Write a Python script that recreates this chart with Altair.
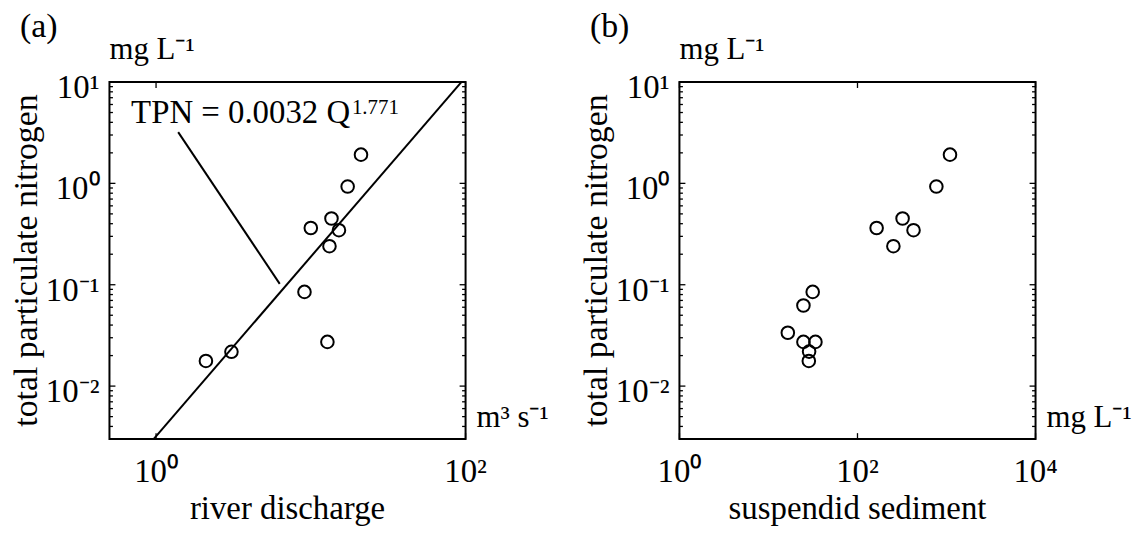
import math
import altair as alt
import pandas as pd

FONT = "Liberation Serif"
W, H = 358, 359
Y_DOM = [0.003, 10]

# ---- data ----
# panel (a): river discharge (m3 s-1) vs total particulate nitrogen (mg L-1)
q_discharge = [21.1, 17.3, 13.6, 10.0, 15.2, 13.2, 9.1, 12.8, 3.07, 2.10]
tpn_a = [1.92, 0.93, 0.45, 0.363, 0.345, 0.24, 0.085, 0.0273, 0.0218, 0.0177]

# panel (b): suspended sediment (mg L-1) vs total particulate nitrogen (mg L-1)
ss = [1094, 769, 321, 164, 426, 253, 31.4, 24.7, 16.5, 24.7, 33.7, 28.6, 28.4]
tpn_b = [1.92, 0.93, 0.45, 0.363, 0.345, 0.24, 0.085, 0.0624, 0.0336,
         0.0273, 0.0273, 0.0219, 0.0177]

# fitted power law shown in panel (a): TPN = 0.0032 Q^1.771
fit_coef = 0.0032
fit_exp = 1.771
fit_q_range = [0.964, 94.2]

# leader line from the equation to the fit line, and equation anchor
leader_x = [1.39, 6.3]
leader_y = [3.2, 0.102]
eq_anchor = [0.69, 3.96]

# axis ticks and labels
y_major = [0.01, 0.1, 1, 10]
y_major_labels = ["10\u207b\u00b2", "10\u207b\u00b9", "10\u2070", "10\u00b9"]
y_minor = [m * 10.0 ** k for k in (-3, -2, -1, 0) for m in range(2, 10)
           if Y_DOM[0] <= m * 10.0 ** k <= Y_DOM[1]]

xa_ticks = [1, 100]
xa_labels = ["10\u2070", "10\u00b2"]
xb_ticks = [1, 100, 10000]
xb_labels = ["10\u2070", "10\u00b2", "10\u2074"]

y_title = "total particulate nitrogen"


def txt(**kw):
    base = dict(font=FONT, color="black", fontWeight="normal")
    base.update(kw)
    return base


def gmid(dom):
    return math.sqrt(dom[0] * dom[1])


def panel(xv, yv, xdom, xt, xl, xtitle, xunit, label, extra=()):
    xs = alt.Scale(type="log", domain=xdom, nice=False)
    ys = alt.Scale(type="log", domain=Y_DOM, nice=False)

    def X(f):
        return alt.X(f, scale=xs, axis=None)

    def Y(f):
        return alt.Y(f, scale=ys, axis=None)

    pts = alt.Chart(pd.DataFrame({"x": xv, "y": yv})).mark_point(
        shape="circle", filled=False, color="black", strokeWidth=2, size=160, opacity=1
    ).encode(x=X("x:Q"), y=Y("y:Q"))

    ymaj = pd.DataFrame({"v": y_major, "lab": y_major_labels})
    ymin = pd.DataFrame({"v": y_minor})
    xtk = pd.DataFrame({"v": xt, "lab": xl})

    def yrule(df, x0, x1):
        return alt.Chart(df).mark_rule(color="black", strokeWidth=1.3).encode(
            y=Y("v:Q"), x=alt.value(x0), x2=alt.value(x1))

    def xrule(df, y0, y1):
        return alt.Chart(df).mark_rule(color="black", strokeWidth=1.3).encode(
            x=X("v:Q"), y=alt.value(y0), y2=alt.value(y1))

    ticks = [
        yrule(ymaj, 0, 6), yrule(ymaj, W, W - 6),
        yrule(ymin, 0, 3.5), yrule(ymin, W, W - 3.5),
        xrule(xtk, H, H - 6), xrule(xtk, 0, 6),
    ]

    ylabels = alt.Chart(ymaj).mark_text(
        **txt(align="right", baseline="middle", dx=-10, dy=6, fontSize=33)
    ).transform_calculate(xp=str(xdom[0])).encode(x=X("xp:Q"), y=Y("v:Q"), text="lab:N")

    xlabels = alt.Chart(xtk).mark_text(
        **txt(align="center", baseline="alphabetic", dy=43, fontSize=33)
    ).transform_calculate(yp=str(Y_DOM[0])).encode(x=X("v:Q"), y=Y("yp:Q"), text="lab:N")

    yunit = alt.Chart(pd.DataFrame({"t": ["mg L\u207b\u00b9"]})).mark_text(
        **txt(align="left", baseline="alphabetic", dy=-23, fontSize=31)
    ).transform_calculate(xp=str(xdom[0]), yp=str(Y_DOM[1])).encode(
        x=X("xp:Q"), y=Y("yp:Q"), text="t:N")

    xunit_m = alt.Chart(pd.DataFrame({"t": [xunit]})).mark_text(
        **txt(align="left", baseline="alphabetic", dx=11, dy=-12, fontSize=31)
    ).transform_calculate(xp=str(xdom[1]), yp=str(Y_DOM[0])).encode(
        x=X("xp:Q"), y=Y("yp:Q"), text="t:N")

    xtitle_m = alt.Chart(pd.DataFrame({"t": [xtitle]})).mark_text(
        **txt(align="center", baseline="alphabetic", dy=80, fontSize=33)
    ).transform_calculate(xp=str(gmid(xdom)), yp=str(Y_DOM[0])).encode(
        x=X("xp:Q"), y=Y("yp:Q"), text="t:N")

    ytitle_m = alt.Chart(pd.DataFrame({"t": [y_title]})).mark_text(
        **txt(align="center", baseline="alphabetic", angle=270, dy=-73, fontSize=34)
    ).transform_calculate(xp=str(xdom[0]), yp=str(gmid(Y_DOM))).encode(
        x=X("xp:Q"), y=Y("yp:Q"), text="t:N")

    panel_label = alt.Chart(pd.DataFrame({"t": [label]})).mark_text(
        **txt(align="left", baseline="alphabetic", dx=-90, dy=-45, fontSize=34)
    ).transform_calculate(xp=str(xdom[0]), yp=str(Y_DOM[1])).encode(
        x=X("xp:Q"), y=Y("yp:Q"), text="t:N")

    layers = [pts] + ticks + [ylabels, xlabels, yunit, xunit_m, xtitle_m, ytitle_m,
                              panel_label] + [f(X, Y) for f in extra]
    return alt.layer(*layers).properties(width=W, height=H)


def fit_layer(X, Y):
    df = pd.DataFrame({"q": fit_q_range})
    return alt.Chart(df).transform_calculate(
        t=f"{fit_coef} * pow(datum.q, {fit_exp})"
    ).mark_line(color="black", strokeWidth=2).encode(x=X("q:Q"), y=Y("t:Q"))


def leader_layer(X, Y):
    df = pd.DataFrame({"lx": leader_x, "ly": leader_y, "o": [0, 1]})
    return alt.Chart(df).mark_line(color="black", strokeWidth=2).encode(
        x=X("lx:Q"), y=Y("ly:Q"), order="o:Q")


def eq_layer(X, Y):
    df = pd.DataFrame({"ex": [eq_anchor[0]], "ey": [eq_anchor[1]], "t": ["TPN = 0.0032 Q"]})
    return alt.Chart(df).mark_text(
        **txt(align="left", baseline="alphabetic", fontSize=33)
    ).encode(x=X("ex:Q"), y=Y("ey:Q"), text="t:N")


def eq_exp_layer(X, Y):
    df = pd.DataFrame({"ex": [eq_anchor[0]], "ey": [eq_anchor[1]], "t": [str(fit_exp)]})
    return alt.Chart(df).mark_text(
        **txt(align="left", baseline="alphabetic", fontSize=21, dx=222, dy=-9)
    ).encode(x=X("ex:Q"), y=Y("ey:Q"), text="t:N")


pa = panel(q_discharge, tpn_a, [0.5, 100], xa_ticks, xa_labels, "river discharge",
           "m\u00b3 s\u207b\u00b9", "(a)", extra=(fit_layer, leader_layer, eq_layer, eq_exp_layer))
pb = panel(ss, tpn_b, [1, 10000], xb_ticks, xb_labels, "suspendid sediment",
           "mg L\u207b\u00b9", "(b)")

chart = alt.hconcat(pa, pb, spacing=28).properties(
    padding={"left": 0, "top": 0, "right": 5, "bottom": 5}, background="white"
).configure_view(stroke="black", strokeWidth=2)

chart.save("out.html", embed_options={"renderer": "svg", "actions": False})
